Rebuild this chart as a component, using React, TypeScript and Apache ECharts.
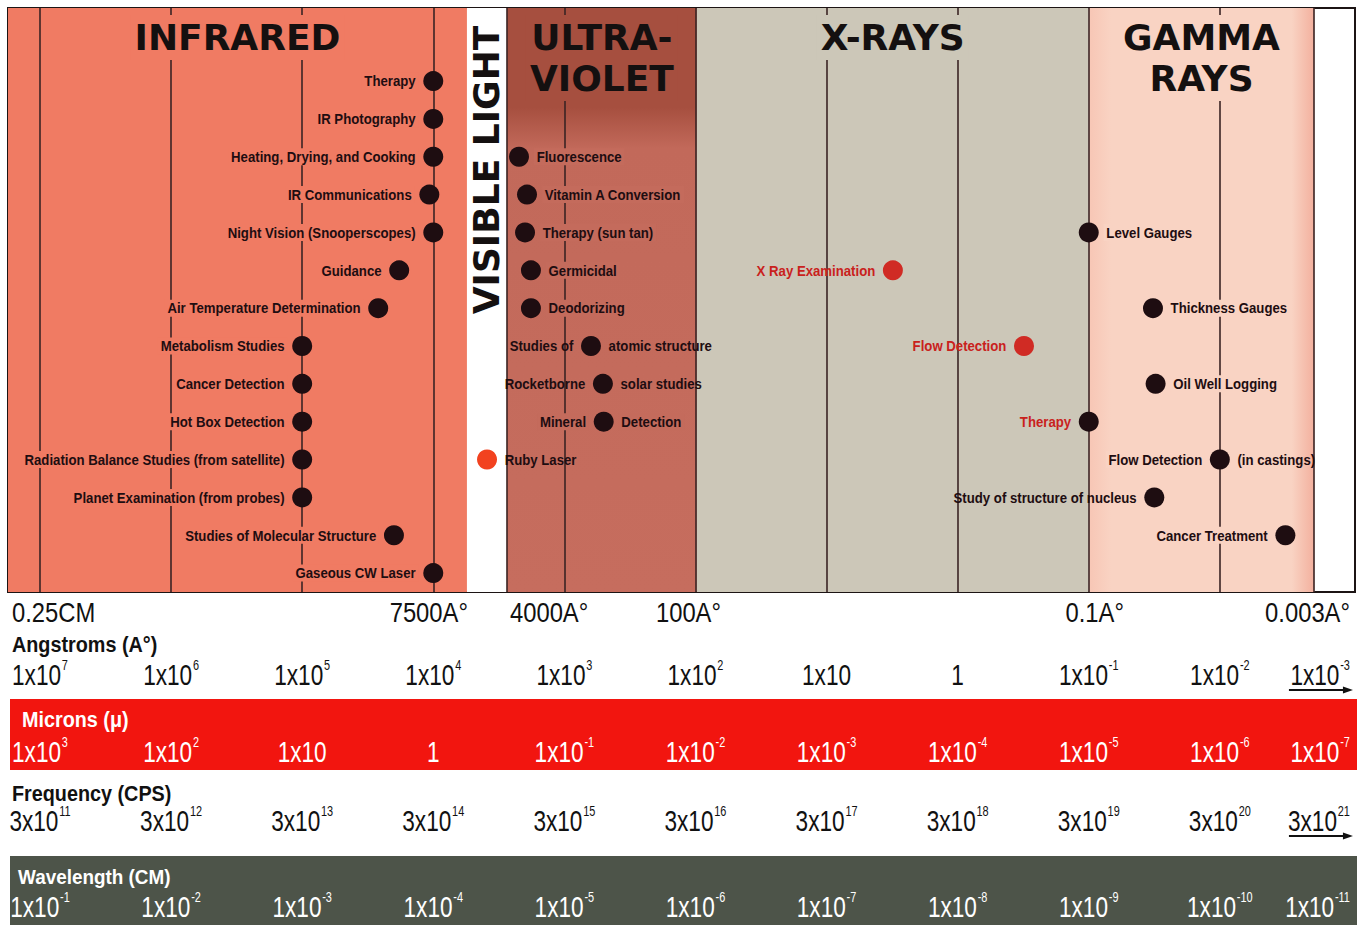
import React, { useEffect, useRef } from 'react';
import * as echarts from 'echarts';

const SANS = '"Liberation Sans", Arial, sans-serif';
const TITLE = '"DejaVu Sans", Verdana, sans-serif';

// Horizontal scale: log10 of wavelength in angstroms
const decadeExps = [7, 6, 5, 4, 3, 2, 1, 0, -1, -2, -3];
const angstromPowers = [7, 6, 5, 4, 3, 2, 1, 0, -1, -2, -3];
const micronPowers = [3, 2, 1, 0, -1, -2, -3, -4, -5, -6, -7];
const frequencyPowers = [11, 12, 13, 14, 15, 16, 17, 18, 19, 20, 21];
const wavelengthCmPowers = [-1, -2, -3, -4, -5, -6, -7, -8, -9, -10, -11];
const scaleLeftExp = 7.244;
const scaleRightExp = -3.031;

// Spectrum regions
const regionNames = ['INFRARED', 'VISIBLE LIGHT', 'ULTRA-\nVIOLET', 'X-RAYS', 'GAMMA\nRAYS'];
const regionStartExp = [7.244, 3.743, 3.438, 1.99, -1.0];
const regionEndExp = [3.743, 3.438, 1.99, -1.0, -2.72];

// Region boundary labels
const boundaryLabels = ['0.25CM', '7500A°', '4000A°', '100A°', '0.1A°', '0.003A°'];
const boundaryExp = [7.244, 3.743, 3.438, 2.0, -1.0, -3.031];

// Uses – infrared
const infraredUses = [
  'Therapy', 'IR Photography', 'Heating, Drying, and Cooking', 'IR Communications',
  'Night Vision (Snooperscopes)', 'Guidance', 'Air Temperature Determination',
  'Metabolism Studies', 'Cancer Detection', 'Hot Box Detection',
  'Radiation Balance Studies (from satellite)', 'Planet Examination (from probes)',
  'Studies of Molecular Structure', 'Gaseous CW Laser',
];
const infraredExp = [4.0, 4.0, 4.0, 4.03, 4.0, 4.26, 4.42, 5.0, 5.0, 5.0, 5.0, 5.0, 4.3, 4.0];
const infraredRow = [1, 2, 3, 4, 5, 6, 7, 8, 9, 10, 11, 12, 13, 14];

// Uses – visible
const visibleUses = ['Ruby Laser'];
const visibleExp = [3.59];
const visibleRow = [11];

// Uses – ultraviolet
const uvUsesLeft = ['', '', '', '', '', 'Studies of', 'Rocketborne', 'Mineral'];
const uvUsesRight = ['Fluorescence', 'Vitamin A Conversion', 'Therapy (sun tan)', 'Germicidal', 'Deodorizing', 'atomic structure', 'solar studies', 'Detection'];
const uvExp = [3.346, 3.285, 3.3, 3.255, 3.255, 2.797, 2.706, 2.7];
const uvRow = [3, 4, 5, 6, 7, 8, 9, 10];

// Uses – x-rays
const xrayUses = ['X Ray Examination', 'Flow Detection', 'Therapy'];
const xrayExp = [0.494, -0.506, -1.0];
const xrayRow = [6, 8, 10];

// Uses – gamma rays
const gammaUsesLeft = ['', '', '', 'Flow Detection', 'Study of structure of nucleus', 'Cancer Treatment'];
const gammaUsesRight = ['Level Gauges', 'Thickness Gauges', 'Oil Well Logging', '(in castings)', '', ''];
const gammaExp = [-1.0, -1.49, -1.51, -2.0, -1.5, -2.5];
const gammaRow = [5, 7, 9, 11, 12, 13];

const DARK = '#1e0d11';
const LINE = '#3a2424';
const regionColors: any[] = [
  '#f07b63',
  '#ffffff',
  { type: 'linear', x: 0, y: 0, x2: 0, y2: 1, colorStops: [{ offset: 0, color: '#a64f3f' }, { offset: 0.17, color: '#a64f3f' }, { offset: 0.24, color: '#c2695a' }, { offset: 1, color: '#c66d5e' }] },
  '#ccc7b8',
  { type: 'linear', x: 0, y: 0, x2: 1, y2: 0, colorStops: [{ offset: 0, color: '#f7c6b5' }, { offset: 0.1, color: '#f9d3c3' }, { offset: 0.9, color: '#f9d3c3' }, { offset: 1, color: '#f3b09e' }] },
];
const titleBg = ['#f07b63', 'transparent', '#a64f3f', '#ccc7b8', '#f9d3c3'];
const labelBg = ['#f07b63', '#ffffff', '#c46b5c', '', '#f9d3c3'];

function powerLabel(mant: string, p: number, plain: boolean) {
  if (plain && p === 0) return '{b|1}';
  if (plain && p === 1) return '{b|1x10}';
  return `{b|${mant}x10}{s|${p}}`;
}

function useSeries(name: string, exps: number[], rows: number[], left: string[], right: string[], dotColor: (e: number) => string, textColor: string) {
  return {
    type: 'custom', name, z: 10, clip: false, silent: true,
    data: exps.map((e, i) => [e, rows[i]]),
    renderItem: (params: any, api: any) => {
      const i = params.dataIndex;
      const c = api.coord([api.value(0), api.value(1)]);
      const edges = regionStartExp.map((e) => api.coord([e, 0])[0]);
      edges.push(api.coord([regionEndExp[regionEndExp.length - 1], 0])[0]);
      const regionOf = (x: number) => {
        let r = 0;
        for (let k = 0; k < regionStartExp.length; k++) if (x >= edges[k]) r = k;
        if (x >= edges[edges.length - 1]) r = -1;
        return r;
      };
      const bgFor = (x0: number, x1: number) => {
        if (edges.slice(1).some((ex) => ex > x0 && ex < x1)) return undefined;
        const r = regionOf((x0 + x1) / 2);
        return r >= 0 && labelBg[r] ? labelBg[r] : undefined;
      };
      const font = { fontSize: 15, fontWeight: 'bold', fontFamily: SANS, fill: textColor };
      const children: any[] = [
        { type: 'circle', shape: { cx: c[0], cy: c[1], r: 10 }, style: { fill: dotColor(exps[i]) } },
      ];
      if (left[i]) {
        const w = left[i].length * 7.6;
        children.push({ type: 'text', x: c[0] - 15, y: c[1], scaleX: 0.88, style: { text: left[i], x: 0, y: 0, align: 'right', textAlign: 'right', verticalAlign: 'middle', textVerticalAlign: 'middle', backgroundColor: bgFor(c[0] - 15 - w, c[0] - 12), padding: [1, 3, 1, 3], ...font } });
      }
      if (right[i]) {
        const w = right[i].length * 7.6;
        children.push({ type: 'text', x: c[0] + 15, y: c[1], scaleX: 0.88, style: { text: right[i], x: 0, y: 0, align: 'left', textAlign: 'left', verticalAlign: 'middle', textVerticalAlign: 'middle', backgroundColor: bgFor(c[0] + 12, c[0] + 15 + w), padding: [1, 3, 1, 3], ...font } });
      }
      return { type: 'group', children };
    },
  };
}

export default function App() {
  const ref = useRef<HTMLDivElement>(null);
  useEffect(() => {
    document.body.style.margin = '0';
    const chart = echarts.init(ref.current!, null, { renderer: 'svg' });
    const titleLabel = (i: number) => {
      const common = {
        show: true, fontSize: 36, fontWeight: 'bold', fontFamily: TITLE, color: '#141010',
        lineHeight: 41, backgroundColor: titleBg[i], padding: [2, 4, 2, 4],
      };
      if (i === 1) return { ...common, position: [20, 162], rotate: 90, align: 'center', verticalAlign: 'middle', padding: 0 };
      return { ...common, position: 'insideTop', distance: 7 };
    };
    const option: any = {
      animation: false,
      backgroundColor: '#ffffff',
      grid: { left: 8, top: 8, width: 1347, height: 584, show: true, borderColor: '#1c1414', borderWidth: 2, backgroundColor: '#ffffff', outerBoundsMode: 'none', containLabel: false },
      xAxis: { type: 'value', min: scaleRightExp, max: scaleLeftExp, inverse: true, show: false },
      yAxis: { type: 'value', min: -0.93, max: 14.5, inverse: true, show: false },
      series: [
        {
          type: 'line', name: 'regions', z: 1, data: [], silent: true,
          markArea: {
            z: 1, silent: true,
            label: { show: false },
            data: regionNames.map((n, i) => [
              { name: n, xAxis: regionStartExp[i], itemStyle: { color: regionColors[i] } },
              { xAxis: regionEndExp[i] },
            ]),
          },
        },
        {
          type: 'line', name: 'decades', z: 2, data: [], silent: true,
          markLine: {
            z: 2, silent: true, symbol: ['none', 'none'], label: { show: false },
            lineStyle: { color: LINE, width: 1.6, type: 'solid' },
            data: [
              ...decadeExps.slice(0, 10).map((e) => ({ xAxis: e })),
              { xAxis: regionStartExp[2] },
              { xAxis: regionEndExp[4] },
            ],
          },
        },
        {
          type: 'line', name: 'titles', z: 3, data: [], silent: true,
          markArea: {
            z: 3, silent: true,
            itemStyle: { color: 'rgba(0,0,0,0)' },
            data: regionNames.map((n, i) => [
              { name: n, xAxis: regionStartExp[i], label: titleLabel(i) },
              { xAxis: regionEndExp[i] },
            ]),
          },
        },
        useSeries('Infrared', infraredExp, infraredRow, infraredUses, [], () => DARK, DARK),
        useSeries('Visible', visibleExp, visibleRow, [], visibleUses, () => '#f2421f', DARK),
        useSeries('Ultraviolet', uvExp, uvRow, uvUsesLeft, uvUsesRight, () => DARK, DARK),
        useSeries('X-Rays', xrayExp, xrayRow, xrayUses, [], (e) => (e <= -1 ? DARK : '#d02b24'), '#c9211c'),
        useSeries('Gamma Rays', gammaExp, gammaRow, gammaUsesLeft, gammaUsesRight, () => DARK, DARK),
      ],
    };
    chart.setOption(option);

    const px = (e: number) => chart.convertToPixel({ xAxisIndex: 0 }, e) as number;
    const aligns = ['left', 'right', 'left', 'center', 'center', 'right'];
    const nudge = [4, 1, 3, -7, 6, -5];
    const txt = (text: string, x: number, y: number, size: number, color: string, align: string, weight = 'normal', sx = 0.85) => ({
      type: 'text', z: 20, x, y, scaleX: sx,
      style: { text, x: 0, y: 0, fill: color, fontSize: size, fontFamily: SANS, fontWeight: weight, align, textAlign: align, verticalAlign: 'middle', textVerticalAlign: 'middle' },
    });
    const row = (y: number, powers: number[], mant: string, plain: boolean, color: string) =>
      decadeExps.map((e, i) => {
        const last = i === decadeExps.length - 1;
        const align = last ? 'right' : 'center';
        return {
          type: 'text', z: 20, x: px(e) + (last ? -1 : 0), y, scaleX: 0.78,
          style: {
            text: powerLabel(mant, powers[i], plain), x: 0, y: 0, align, textAlign: align,
            verticalAlign: 'middle', textVerticalAlign: 'middle',
            rich: {
              b: { fontSize: 29, fontFamily: SANS, fill: color, color, lineHeight: 32 },
              s: { fontSize: 14, fontFamily: SANS, fill: color, color, lineHeight: 15, verticalAlign: 'top', padding: [0, 0, 0, 1] },
            },
          },
        };
      });
    const arrow = (y: number) => {
      const xr = px(decadeExps[10]) + 1;
      return [
        { type: 'line', z: 20, shape: { x1: xr - 63, y1: y, x2: xr - 4, y2: y }, style: { stroke: '#111', lineWidth: 2 } },
        { type: 'polygon', z: 20, shape: { points: [[xr - 9, y - 3.5], [xr + 1, y], [xr - 9, y + 3.5]] }, style: { fill: '#111' } },
      ];
    };
    chart.setOption({
      graphic: [
        { type: 'rect', z: 1, shape: { x: 10, y: 699, width: 1347, height: 71 }, style: { fill: '#f2150f' } },
        { type: 'rect', z: 1, shape: { x: 10, y: 856, width: 1347, height: 69 }, style: { fill: '#4d5449' } },
        ...boundaryLabels.map((t, i) => txt(t, px(boundaryExp[i]) + nudge[i], 612, 28, '#111111', aligns[i], 'normal', 0.85)),
        txt('Angstroms (A°)', 12, 644, 22, '#111111', 'left', 'bold', 0.9),
        txt('Microns (\u03bc)', 22, 719, 22, '#ffffff', 'left', 'bold', 0.9),
        txt('Frequency (CPS)', 12, 793, 22, '#111111', 'left', 'bold', 0.9),
        txt('Wavelength (CM)', 18, 877, 21, '#ffffff', 'left', 'bold', 0.9),
        ...row(675, angstromPowers, '1', true, '#111111'),
        ...row(752, micronPowers, '1', true, '#ffffff'),
        ...row(821, frequencyPowers, '3', false, '#111111'),
        ...row(907, wavelengthCmPowers, '1', false, '#ffffff'),
        ...arrow(690),
        ...arrow(836),
      ],
    });
    return () => chart.dispose();
  }, []);
  return <div ref={ref} style={{ width: 1366, height: 925 }} />;
}
